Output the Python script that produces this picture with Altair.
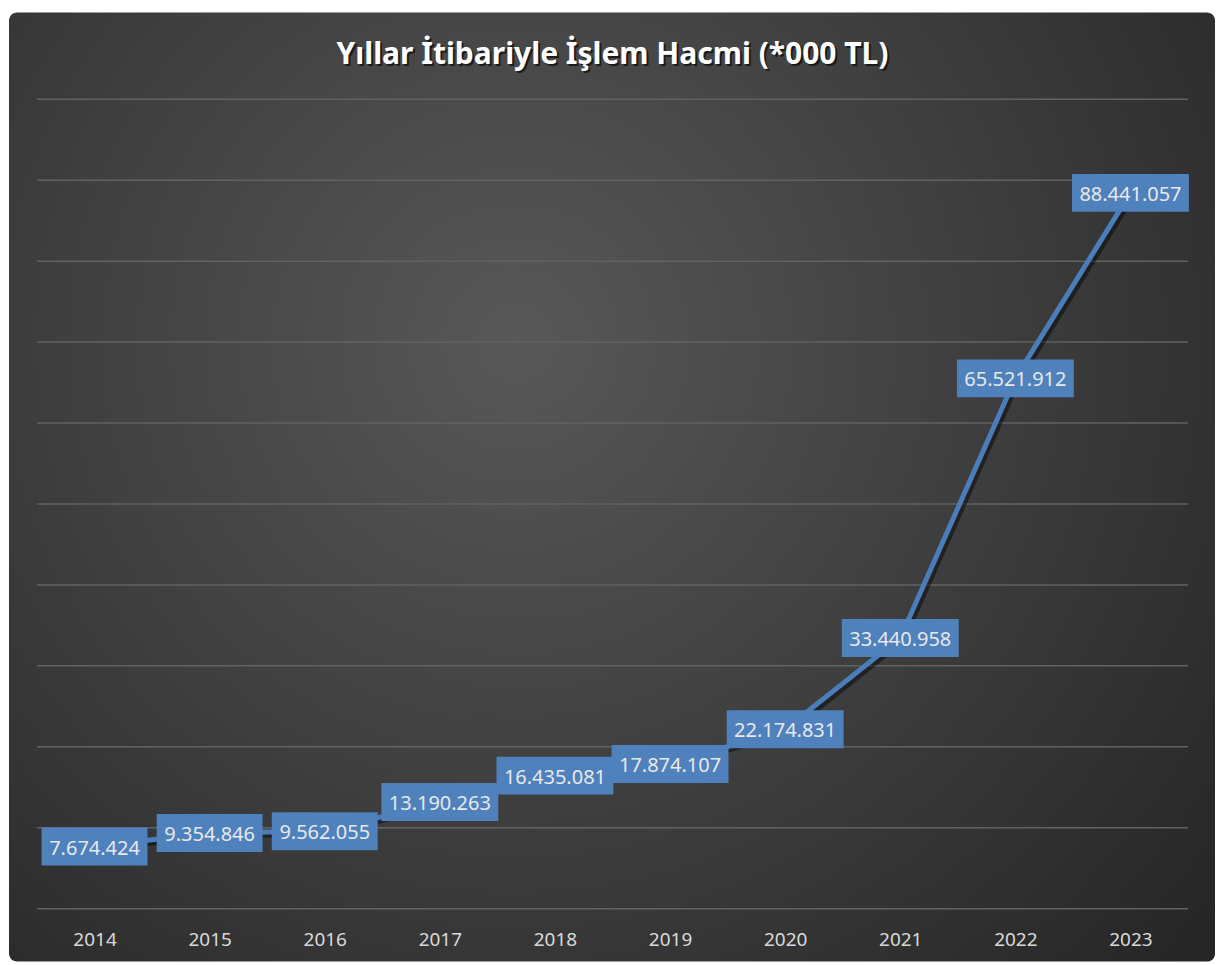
import altair as alt
import pandas as pd

years = ["2014", "2015", "2016", "2017", "2018", "2019", "2020", "2021", "2022", "2023"]
values = [7674424, 9354846, 9562055, 13190263, 16435081, 17874107, 22174831, 33440958, 65521912, 88441057]
labels = ["7.674.424", "9.354.846", "9.562.055", "13.190.263", "16.435.081",
          "17.874.107", "22.174.831", "33.440.958", "65.521.912", "88.441.057"]
grid_values = [0, 10000000, 20000000, 30000000, 40000000, 50000000,
               60000000, 70000000, 80000000, 90000000, 100000000]
title_text = "Yıllar İtibariyle İşlem Hacmi (*000 TL)"

df = pd.DataFrame({"year": years, "value": values, "label": labels})
df["short"] = df["label"].str.len() < 10
gdf = pd.DataFrame({"value": grid_values})
tdf = pd.DataFrame({"t": [title_text]})

W, H = 1152, 810
PL, PT, PR, PB = 29, 91, 27, 53

x = alt.X("year:O", title=None, sort=years,
          scale=alt.Scale(type="point", padding=0.5),
          axis=alt.Axis(labelAngle=0, labelColor="#d9d9d9", labelFontSize=19,
                        labelFont="Noto Sans", ticks=False, domain=False,
                        labelPadding=22, grid=False, zindex=1))
yscale = alt.Scale(domain=[0, 100000000], nice=False)
y = alt.Y("value:Q", title=None, scale=yscale, axis=None)

base = alt.Chart(df)

bg = base.transform_filter("datum.year == '2014'").mark_rect(
    cornerRadius=8,
    color=alt.Gradient(gradient="radial",
                       stops=[alt.GradientStop(color="#585858", offset=0),
                              alt.GradientStop(color="#262626", offset=1)],
                       x1=0.42, y1=0.38, r1=0, x2=0.42, y2=0.38, r2=0.75),
).encode(x=alt.value(-PL + 1), x2=alt.value(W + PR), y=alt.value(-PT + 4), y2=alt.value(H + PB))

title_shadow = alt.Chart(tdf).mark_text(
    font="Noto Sans", fontSize=30, fontWeight="bold", color="#000000", opacity=0.6,
    align="center", baseline="middle").encode(
    text="t:N", x=alt.value(W / 2 + 2), y=alt.value(-PT + 49))
title = alt.Chart(tdf).mark_text(
    font="Noto Sans", fontSize=30, fontWeight="bold", color="#ffffff",
    align="center", baseline="middle").encode(
    text="t:N", x=alt.value(W / 2), y=alt.value(-PT + 47))

grid = alt.Chart(gdf).mark_rule(color="#626262", strokeWidth=1.5).encode(
    y=alt.Y("value:Q", scale=yscale, axis=None), x=alt.value(0), x2=alt.value(W))

shadow = base.mark_line(color="black", opacity=0.45, strokeWidth=5, xOffset=3, yOffset=3).encode(
    x=x, y=y)
line = base.mark_line(color="#4a7ebb", strokeWidth=5).encode(x=x, y=y)

box_s = base.transform_filter("datum.short").mark_rect(
    width=106, height=38, color="#4f81bd").encode(x=x, y=y)
box_l = base.transform_filter("!datum.short").mark_rect(
    width=117, height=38, color="#4f81bd").encode(x=x, y=y)

txt = base.mark_text(font="Noto Sans", fontSize=20, color="#e8e8e8", baseline="middle",
                     dy=2).encode(x=x, y=y, text="label:N")

chart = alt.layer(bg, title_shadow, title, grid, shadow, line, box_s, box_l, txt).properties(
    width=W, height=H,
    autosize=alt.AutoSizeParams(type="none"),
    padding={"left": PL, "top": PT, "right": PR, "bottom": PB},
).configure(background="#ffffff").configure_view(stroke=None)

chart.save("out.html", embed_options={"renderer": "svg", "actions": False})
